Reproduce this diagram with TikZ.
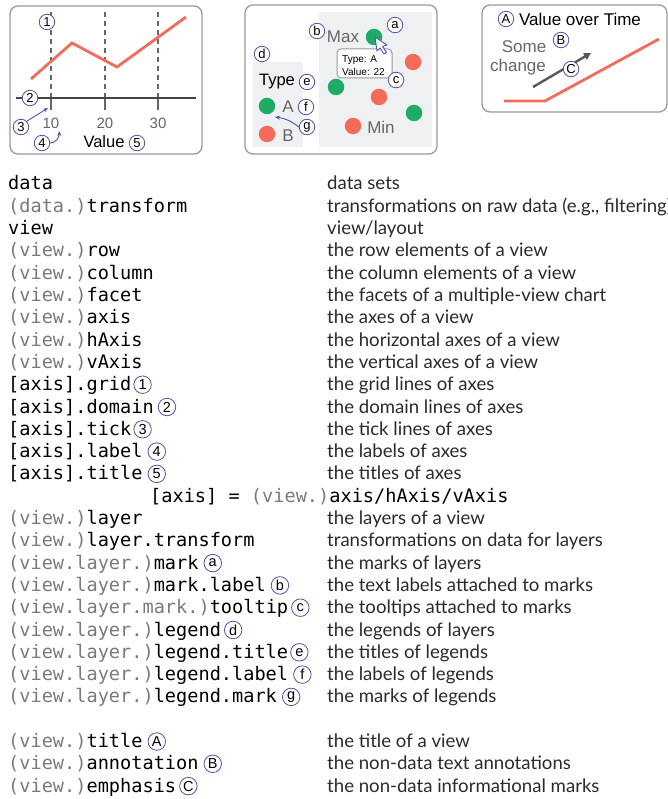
\documentclass[tikz,border=0pt]{standalone}
\usepackage{fontspec}
\setmainfont{Liberation Sans}
\newfontfamily\monof{DejaVu Sans Mono}
\newfontfamily\descf{Lato}
\usetikzlibrary{calc,arrows.meta}
\definecolor{redl}{HTML}{F26B5B}
\definecolor{greenl}{HTML}{1FAA66}
\definecolor{bgl}{HTML}{EFF0F2}
\definecolor{circc}{HTML}{5252A8}
\definecolor{pregray}{HTML}{7A7A7A}
\definecolor{txtgray}{HTML}{666666}
\definecolor{gridc}{HTML}{666666}
\definecolor{axisc}{HTML}{444444}
\definecolor{panelc}{HTML}{999999}
\definecolor{desctxt}{HTML}{2A2A2A}
\newcommand\pre[1]{\textcolor{pregray}{#1}}
\begin{document}
\begin{tikzpicture}[x=1pt,y=-1pt,
  panel/.style={draw=panelc,line width=1.3pt,rounded corners=8pt},
  gridl/.style={draw=gridc,line width=2.4pt,dash pattern=on 5pt off 4pt},
  tickl/.style={draw=gridc,line width=2.4pt},
  redline/.style={draw=redl,line width=2.8pt},
  circ/.style={circle,draw=circc,line width=0.8pt,fill=white,inner sep=0pt,minimum size=15.5pt,font=\fontsize{13}{13}\selectfont},
  tc/.style={circle,draw=circc,line width=0.8pt,fill=white,inner sep=0pt,minimum size=17.5pt,font=\fontsize{14.5}{14.5}\selectfont},
  pa/.style={draw=circc,line width=0.9pt,-{Stealth[length=5pt,width=4pt]}},
  ptxt/.style={inner sep=0pt,font=\fontsize{17}{17}\selectfont},
  gtxt/.style={ptxt,text=txtgray},
  ticklab/.style={inner sep=0pt,text=txtgray,font=\fontsize{15}{15}\selectfont},
  dotg/.style={circle,fill=greenl,inner sep=0pt,minimum size=16.5pt},
  dotr/.style={circle,fill=redl,inner sep=0pt,minimum size=16.5pt},
  mono/.style={anchor=base west,inner sep=0pt,font=\monof\fontsize{18.6}{20}\selectfont},
  desc/.style={anchor=base west,inner sep=0pt,text=desctxt,font=\descf\fontsize{18.6}{20}\selectfont},
]
\useasboundingbox (0,0) rectangle (668,799);

% ---------- panel 1 ----------
\draw[panel] (10,6) rectangle (202,154);
\foreach \x in {51,105,158}{
  \draw[gridl] (\x,12) -- (\x,97);
  \draw[tickl] (\x,98) -- (\x,110);
}
\draw[draw=axisc,line width=2.6pt] (16,98) -- (196,98);
\draw[redline,line join=miter] (31,79) -- (72,43) -- (117,67) -- (186,17);
\node[ticklab] (l10) at (51,123) {10};
\node[ticklab] (l20) at (105,123) {20};
\node[ticklab] (l30) at (158,123) {30};
\node[inner sep=0pt,font=\fontsize{16.5}{16.5}\selectfont] (vt) at (104,142) {Value};
\node[circ] (c1) at (47,22) {1};
\node[circ] (c2) at (30,98) {2};
\node[circ] (c3) at (21,127) {3};
\node[circ] (c4) at (42,143) {4};
\node[circ] (c5) at (137,143) {5};
\coordinate (t3) at (48,108);
\draw[pa] (c3.north east) -- (t3);
\coordinate (t4) at (59,131);
\draw[pa] (c4.east) to[out=0,in=-85] (t4);

% ---------- panel 2 ----------
\draw[panel] (245,5) rectangle (437,154);
\fill[bgl] (319,12) rectangle (432,147);
\fill[bgl] (253,62) rectangle (303,147);
\node[dotg] (g1) at (374,37) {};
\node[dotg] (g2) at (336,87) {};
\node[dotg] (g3) at (414,113) {};
\node[dotr] (r1) at (413,62) {};
\node[dotr] (r2) at (379,97) {};
\node[dotr] (r3) at (353,126) {};
\node[gtxt] (max) at (343,37) {Max};
\node[gtxt] (min) at (381,127) {Min};
\draw[draw=panelc,line width=1pt,fill=white,rounded corners=4pt] (337,49) rectangle (392,78);
\node[anchor=west,inner sep=0pt,font=\fontsize{10}{10}\selectfont] (tt1) at (342,60) {Type: A};
\node[anchor=west,inner sep=0pt,font=\fontsize{10}{10}\selectfont] (tt2) at (342,72) {Value: 22};
\draw[draw=circc,line width=0.9pt,fill=white,line join=round]
  (375,37) -- (377,51) -- (380,48) -- (384,54) -- (386.5,52.5) -- (382.5,46.5) -- (387,45) -- cycle;
\node[ptxt,font=\fontsize{16.5}{16.5}\selectfont] (typ) at (277,82) {Type};
\node[dotg] (lg) at (267,106) {};
\node[dotr] (lr) at (267,134) {};
\node[gtxt] (la) at (288,107) {A};
\node[gtxt] (lb) at (288,136) {B};
\node[circ] (ca) at (395,25) {a};
\node[circ] (cb) at (317,31) {b};
\node[circ] (cc) at (396,80) {c};
\node[circ] (cd) at (262,54) {d};
\node[circ] (ce) at (307,82) {e};
\node[circ] (cf) at (306,107) {f};
\node[circ] (cg) at (307,127) {g};
\coordinate (tg) at (275,117);
\draw[pa] (cg.west) to[bend right=15] (tg);

% ---------- panel 3 ----------
\draw[panel] (482,5) rectangle (667,112);
\node[ptxt] (vot) at (580,19) {Value over Time};
\node[circ] (cA) at (506,19) {A};
\node[gtxt] (some) at (524,47) {Some};
\node[gtxt] (chg) at (518,67) {change};
\coordinate (e1) at (533,87);
\coordinate (e2) at (591,53);
\draw[draw=axisc!90,line width=2.4pt,-{Triangle[length=7pt,width=7pt]}] (e1) -- (e2);
\node[circ] (cB) at (561,40) {B};
\node[circ] (cC) at (571,69) {C};
\draw[redline] (504,101) -- (545,101) -- (659,39);

% ---------- table ----------
\node[mono] (m0) at (8,190) {data};
\node[mono] (m1) at (8,212.3) {\pre{(data.)}transform};
\node[mono] (m2) at (8,234.6) {view};
\node[mono] (m3) at (8,256.9) {\pre{(view.)}row};
\node[mono] (m4) at (8,279.2) {\pre{(view.)}column};
\node[mono] (m5) at (8,301.5) {\pre{(view.)}facet};
\node[mono] (m6) at (8,323.8) {\pre{(view.)}axis};
\node[mono] (m7) at (8,346.1) {\pre{(view.)}hAxis};
\node[mono] (m8) at (8,368.4) {\pre{(view.)}vAxis};
\node[mono] (m9) at (8,390.7) {[axis].grid};
\node[mono] (m10) at (8,413) {[axis].domain};
\node[mono] (m11) at (8,435.3) {[axis].tick};
\node[mono] (m12) at (8,457.6) {[axis].label};
\node[mono] (m13) at (8,479.9) {[axis].title};
\node[mono] (m14) at (150,502.2) {[axis] = \pre{(view.)}axis/hAxis/vAxis};
\node[mono] (m15) at (8,524.5) {\pre{(view.)}layer};
\node[mono] (m16) at (8,546.8) {\pre{(view.)}layer.transform};
\node[mono] (m17) at (8,569.1) {\pre{(view.layer.)}mark};
\node[mono] (m18) at (8,591.4) {\pre{(view.layer.)}mark.label};
\node[mono] (m19) at (8,613.7) {\pre{(view.layer.mark.)}tooltip};
\node[mono] (m20) at (8,636) {\pre{(view.layer.)}legend};
\node[mono] (m21) at (8,658.3) {\pre{(view.layer.)}legend.title};
\node[mono] (m22) at (8,680.6) {\pre{(view.layer.)}legend.label};
\node[mono] (m23) at (8,702.9) {\pre{(view.layer.)}legend.mark};
\node[mono] (m25) at (8,747.5) {\pre{(view.)}title};
\node[mono] (m26) at (8,769.8) {\pre{(view.)}annotation};
\node[mono] (m27) at (8,792.1) {\pre{(view.)}emphasis};

\node[tc] (k9) at ($(m9.base east)+(11,-6)$) {1};
\node[tc] (k10) at ($(m10.base east)+(13,-6)$) {2};
\node[tc] (k11) at ($(m11.base east)+(11,-6)$) {3};
\node[tc] (k12) at ($(m12.base east)+(14,-6)$) {4};
\node[tc] (k13) at ($(m13.base east)+(14,-6)$) {5};
\node[tc] (k17) at ($(m17.base east)+(14,-6)$) {a};
\node[tc] (k18) at ($(m18.base east)+(14,-6)$) {b};
\node[tc] (k19) at ($(m19.base east)+(12,-6)$) {c};
\node[tc] (k20) at ($(m20.base east)+(12,-6)$) {d};
\node[tc] (k21) at ($(m21.base east)+(11,-6)$) {e};
\node[tc] (k22) at ($(m22.base east)+(14,-6)$) {f};
\node[tc] (k23) at ($(m23.base east)+(14,-6)$) {g};
\node[tc] (k25) at ($(m25.base east)+(14,-6)$) {A};
\node[tc] (k26) at ($(m26.base east)+(14,-6)$) {B};
\node[tc] (k27) at ($(m27.base east)+(12,-6)$) {C};

\node[desc] (d0) at (327,190) {data sets};
\node[desc] (d1) at (327,212.3) {transformations on raw data (e.g., filtering)};
\node[desc] (d2) at (327,234.6) {view/layout};
\node[desc] (d3) at (327,256.9) {the row elements of a view};
\node[desc] (d4) at (327,279.2) {the column elements of a view};
\node[desc] (d5) at (327,301.5) {the facets of a multiple-view chart};
\node[desc] (d6) at (327,323.8) {the axes of a view};
\node[desc] (d7) at (327,346.1) {the horizontal axes of a view};
\node[desc] (d8) at (327,368.4) {the vertical axes of a view};
\node[desc] (d9) at (327,390.7) {the grid lines of axes};
\node[desc] (d10) at (327,413) {the domain lines of axes};
\node[desc] (d11) at (327,435.3) {the tick lines of axes};
\node[desc] (d12) at (327,457.6) {the labels of axes};
\node[desc] (d13) at (327,479.9) {the titles of axes};
\node[desc] (d15) at (327,524.5) {the layers of a view};
\node[desc] (d16) at (327,546.8) {transformations on data for layers};
\node[desc] (d17) at (327,569.1) {the marks of layers};
\node[desc] (d18) at (327,591.4) {the text labels attached to marks};
\node[desc] (d19) at (327,613.7) {the tooltips attached to marks};
\node[desc] (d20) at (327,636) {the legends of layers};
\node[desc] (d21) at (327,658.3) {the titles of legends};
\node[desc] (d22) at (327,680.6) {the labels of legends};
\node[desc] (d23) at (327,702.9) {the marks of legends};
\node[desc] (d25) at (327,747.5) {the title of a view};
\node[desc] (d26) at (327,769.8) {the non-data text annotations};
\node[desc] (d27) at (327,792.1) {the non-data informational marks};
\end{tikzpicture}
\end{document}
